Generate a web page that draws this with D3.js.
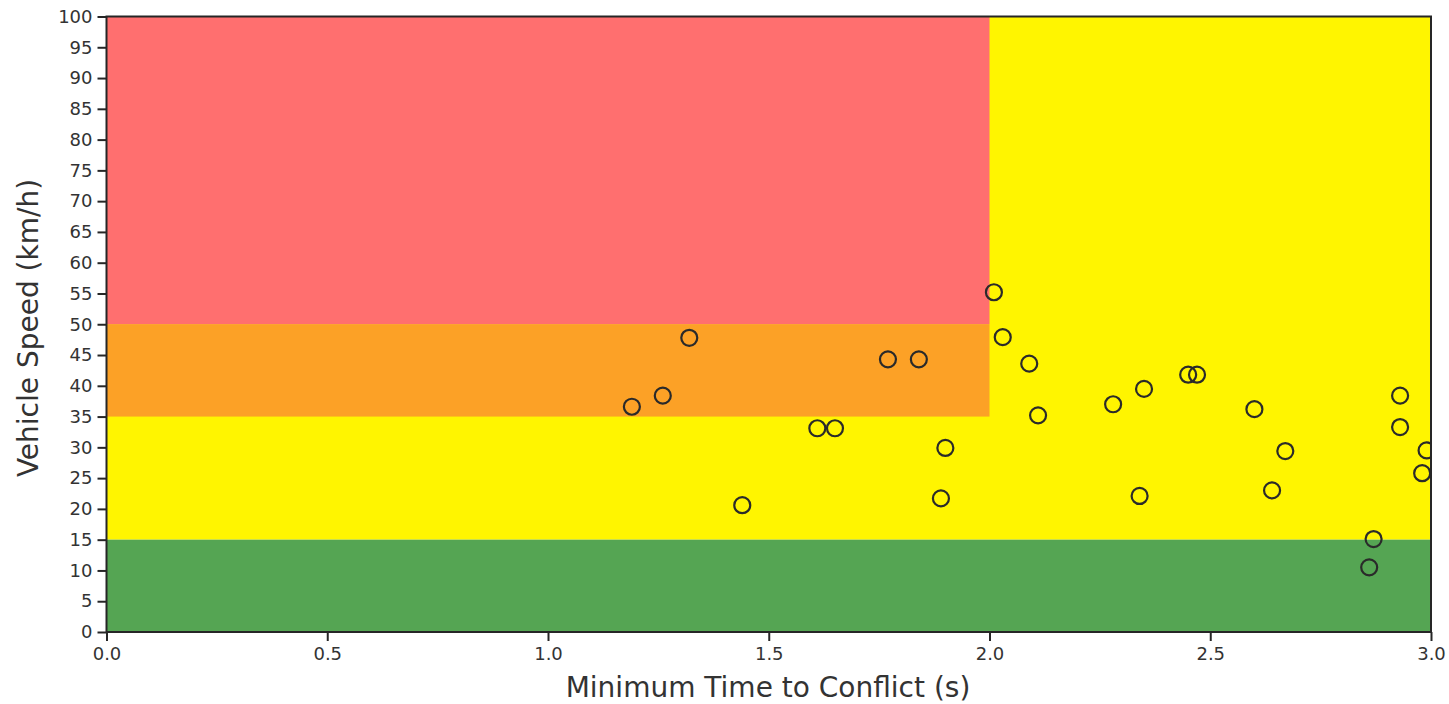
<!DOCTYPE html>
<html><head><meta charset="utf-8">
<script src="https://cdn.jsdelivr.net/npm/d3@7"></script>
<style>body{margin:0;background:#fff;}svg{display:block;}</style>
</head><body><svg id="c" width="1449" height="704"></svg>
<script>
const ttc = [1.19,1.26,1.32,1.44,1.61,1.65,1.77,1.84,1.89,1.90,2.01,2.03,2.09,2.11,2.28,2.34,2.35,2.45,2.47,2.60,2.64,2.67,2.86,2.87,2.93,2.93,2.98,2.99];
const speed = [36.6,38.4,47.8,20.6,33.1,33.1,44.3,44.3,21.7,29.9,55.2,47.9,43.6,35.2,37.0,22.1,39.5,41.8,41.8,36.2,23.0,29.4,10.5,15.1,38.4,33.3,25.8,29.5];
const xTicks = [0.0,0.5,1.0,1.5,2.0,2.5,3.0];
const yTicks = [0,5,10,15,20,25,30,35,40,45,50,55,60,65,70,75,80,85,90,95,100];
// zones
const zoneX0 = [0,0,0,0];
const zoneX1 = [3,2,2,3];
const zoneY0 = [15,35,50,0];
const zoneY1 = [100,50,100,15];
const zoneColor = ["#fff500","#fca126","#ff6f6f","#55a553"];

const svg = d3.select("#c");
const L=106.5, R=1431, T=16.5, B=632;
const x = d3.scaleLinear().domain([0,3]).range([L,R]);
const y = d3.scaleLinear().domain([0,100]).range([B,T]);

svg.append("defs").append("clipPath").attr("id","clip")
  .append("rect").attr("x",L).attr("y",T).attr("width",R-L).attr("height",B-T);

const zones = zoneX0.map((d,i)=>({x0:d,x1:zoneX1[i],y0:zoneY0[i],y1:zoneY1[i],c:zoneColor[i]}));
svg.append("g").selectAll("rect").data(zones).join("rect")
  .attr("x",d=>x(d.x0)).attr("width",d=>x(d.x1)-x(d.x0))
  .attr("y",d=>y(d.y1)).attr("height",d=>y(d.y0)-y(d.y1))
  .attr("fill",d=>d.c);

const pts = ttc.map((d,i)=>({x:d,y:speed[i]}));
svg.append("g").attr("clip-path","url(#clip)").selectAll("circle").data(pts).join("circle")
  .attr("cx",d=>x(d.x)).attr("cy",d=>y(d.y)).attr("r",8)
  .attr("fill","none").attr("stroke","#2a2a2a").attr("stroke-width",2.2);

const font = "DejaVu Sans";
const xa = svg.append("g").attr("transform",`translate(0,${B})`)
  .call(d3.axisBottom(x).tickValues(xTicks).tickFormat(d3.format(".1f")).tickSizeOuter(0).tickSize(9).tickPadding(6));
const ya = svg.append("g").attr("transform",`translate(${L},0)`)
  .call(d3.axisLeft(y).tickValues(yTicks).tickFormat(d3.format("d")).tickSizeOuter(0).tickSize(9).tickPadding(5));
[xa,ya].forEach(a=>{
  a.select(".domain").remove();
  a.selectAll(".tick line").attr("stroke","#262626").attr("stroke-width",2);
  a.selectAll(".tick text").attr("fill","#333").style("font-family",font).style("font-size","18px");
});
svg.append("rect").attr("x",L).attr("y",T).attr("width",R-L).attr("height",B-T)
  .attr("fill","none").attr("stroke","#262626").attr("stroke-width",2);

svg.append("text").attr("x",768).attr("y",697).attr("text-anchor","middle")
  .style("font-family",font).style("font-size","28px").attr("fill","#333")
  .text("Minimum Time to Conflict (s)");
svg.append("text").attr("transform",`translate(38,328) rotate(-90)`).attr("text-anchor","middle")
  .style("font-family",font).style("font-size","28px").attr("fill","#333")
  .text("Vehicle Speed (km/h)");
</script></body></html>
